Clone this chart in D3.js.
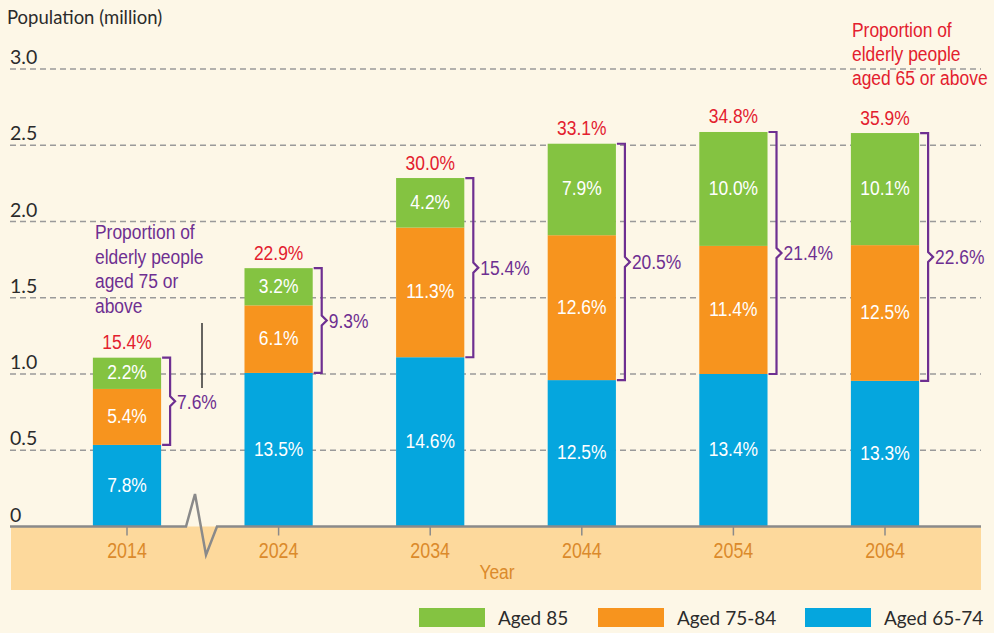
<!DOCTYPE html>
<html>
<head>
<meta charset="utf-8">
<script src="https://cdn.jsdelivr.net/npm/d3@7/dist/d3.min.js"></script>
<style>
  html, body { margin: 0; padding: 0; background: #fdf7e7; }
  svg { display: block; }
  .narrow { font-family: 'Liberation Sans', Arial, sans-serif; }
  .myriad { font-family: Lato, 'Open Sans', sans-serif; }
</style>
</head>
<body>
<div id="chart"></div>
<script>
// Data (population in million)
var years     = ['2014', '2024', '2034', '2044', '2054', '2064'];
var aged6574  = [0.535, 1.007, 1.11, 0.96, 1.00, 0.955];
var aged7584  = [0.367, 0.443, 0.85, 0.95, 0.84, 0.89];
var aged85    = [0.205, 0.244, 0.325, 0.60, 0.747, 0.735];
var pct6574   = ['7.8%', '13.5%', '14.6%', '12.5%', '13.4%', '13.3%'];
var pct7584   = ['5.4%', '6.1%', '11.3%', '12.6%', '11.4%', '12.5%'];
var pct85     = ['2.2%', '3.2%', '4.2%', '7.9%', '10.0%', '10.1%'];
var pct75up   = ['7.6%', '9.3%', '15.4%', '20.5%', '21.4%', '22.6%'];
var pct65up   = ['15.4%', '22.9%', '30.0%', '33.1%', '34.8%', '35.9%'];
var yTicks    = [0, 0.5, 1, 1.5, 2, 2.5, 3];
var legendNames = ['Aged 85', 'Aged 75-84', 'Aged 65-74'];

var colors = { a85: '#84c341', a7584: '#f7941e', a6574: '#05a6de' };
var red = '#e3202e', purple = '#6e2f91';

// condensed look: Liberation Sans squeezed horizontally
var squeeze = 0.83;
function tr(px, py) { return 'translate(' + px + ',' + py + ') scale(' + squeeze + ',1)'; }

var width = 994, height = 633;
var svg = d3.select('#chart').append('svg')
            .attr('width', width)
            .attr('height', height);

svg.append('rect').attr('width', width).attr('height', height).attr('fill', '#fdf7e7');

var x = d3.scaleBand()
          .domain(years)
          .range([51.2, 960.8])
          .paddingInner(0.55)
          .paddingOuter(0.275);

var y = d3.scaleLinear().domain([0, 3]).range([526.5, 69]);

// axis band
svg.append('rect')
   .attr('x', 11).attr('y', y(0))
   .attr('width', 970).attr('height', 590 - y(0))
   .attr('fill', '#fdd99c');

// gridlines
svg.append('g').selectAll('line')
   .data(yTicks.filter(function(d) { return d > 0; }))
   .enter().append('line')
   .attr('x1', 10).attr('x2', 981)
   .attr('y1', function(d) { return y(d); })
   .attr('y2', function(d) { return y(d); })
   .attr('stroke', '#9a9a9a')
   .attr('stroke-width', 1.3)
   .attr('stroke-dasharray', '6,4');

// y tick labels
svg.append('g').selectAll('text')
   .data(yTicks)
   .enter().append('text')
   .attr('class', 'myriad')
   .attr('x', 10)
   .attr('y', function(d) { return y(d) - 5; })
   .attr('font-size', 19.5)
   .attr('fill', '#2b2b2b')
   .text(function(d) { return d === 0 ? '0' : d3.format('.1f')(d); });

svg.append('text')
   .attr('class', 'myriad')
   .attr('x', 7).attr('y', 24)
   .attr('font-size', 18.5)
   .attr('fill', '#2b2b2b')
   .text('Population (million)');

// stacked bars
var rows = years.map(function(yr, i) {
  return { year: yr, a6574: aged6574[i], a7584: aged7584[i], a85: aged85[i], i: i };
});
var stack = d3.stack().keys(['a6574', 'a7584', 'a85']);
var series = stack(rows);
var labels = { a6574: pct6574, a7584: pct7584, a85: pct85 };

var bw = x.bandwidth();

series.forEach(function(s) {
  var g = svg.append('g');
  g.selectAll('rect')
   .data(s)
   .enter().append('rect')
   .attr('x', function(d) { return x(d.data.year); })
   .attr('y', function(d) { return y(d[1]); })
   .attr('width', bw)
   .attr('height', function(d) { return y(d[0]) - y(d[1]); })
   .attr('fill', colors[s.key]);

  g.selectAll('text')
   .data(s)
   .enter().append('text')
   .attr('class', 'narrow')
   .attr('transform', function(d) {
     return tr(x(d.data.year) + bw / 2, (y(d[0]) + y(d[1])) / 2 + 6);
   })
   .attr('text-anchor', 'middle')
   .attr('font-size', 21)
   .attr('fill', '#fff')
   .text(function(d) { return labels[s.key][d.data.i]; });
});

var topS = series[2], midS = series[1];

// red totals
svg.append('g').selectAll('text')
   .data(topS)
   .enter().append('text')
   .attr('class', 'narrow')
   .attr('transform', function(d) { return tr(x(d.data.year) + bw / 2, y(d[1]) - 8.5); })
   .attr('text-anchor', 'middle')
   .attr('font-size', 21)
   .attr('fill', red)
   .text(function(d, i) { return pct65up[i]; });

// purple brackets for aged 75 or above
var br = svg.append('g');
topS.forEach(function(d, i) {
  var x0 = x(d.data.year) + bw + 1,
      xb = x0 + 8,
      yt = y(d[1]),
      yb = y(midS[i][0]),
      ym = (yt + yb) / 2;
  var path = 'M' + x0 + ',' + yt + 'H' + xb + 'V' + (ym - 5) +
             'L' + (xb + 5) + ',' + ym + 'L' + xb + ',' + (ym + 5) +
             'V' + yb + 'H' + x0;
  br.append('path')
    .attr('d', path)
    .attr('fill', 'none')
    .attr('stroke', purple)
    .attr('stroke-width', 2.2);
  br.append('text')
    .attr('class', 'narrow')
    .attr('transform', tr(xb + 7, ym + 7.5))
    .attr('font-size', 21)
    .attr('fill', purple)
    .text(pct75up[i]);
});

// baseline with axis break
var yb0 = y(0);
svg.append('path')
   .attr('d', 'M10,' + yb0 + 'H186L195,494L206,555L217,' + yb0 + 'H981')
   .attr('fill', 'none')
   .attr('stroke', '#8a8a8a')
   .attr('stroke-width', 2.5)
   .attr('stroke-linejoin', 'miter');

// x ticks + labels
svg.append('g').selectAll('line')
   .data(years)
   .enter().append('line')
   .attr('x1', function(d) { return x(d) + bw / 2; })
   .attr('x2', function(d) { return x(d) + bw / 2; })
   .attr('y1', yb0).attr('y2', yb0 + 9)
   .attr('stroke', '#8a8a8a')
   .attr('stroke-width', 1.5);

svg.append('g').selectAll('text')
   .data(years)
   .enter().append('text')
   .attr('class', 'narrow')
   .attr('transform', function(d) { return tr(x(d) + bw / 2, 558); })
   .attr('text-anchor', 'middle')
   .attr('font-size', 21.5)
   .attr('fill', '#db8a2b')
   .text(function(d) { return d; });

svg.append('text')
   .attr('class', 'narrow')
   .attr('transform', tr(497, 579))
   .attr('text-anchor', 'middle')
   .attr('font-size', 21)
   .attr('fill', '#db8a2b')
   .text('Year');

// annotations
function multiline(lines, xPos, yPos, lh, color) {
  var t = svg.append('text')
             .attr('class', 'narrow')
             .attr('transform', tr(xPos, yPos))
             .attr('font-size', 21)
             .attr('fill', color);
  lines.forEach(function(l, k) {
    t.append('tspan').attr('x', 0).attr('y', k * lh).text(l);
  });
}
multiline(['Proportion of', 'elderly people', 'aged 75 or', 'above'], 95, 239, 24.7, purple);
multiline(['Proportion of', 'elderly people', 'aged 65 or above'], 852, 37, 24, red);

svg.append('line')
   .attr('x1', 202).attr('x2', 202)
   .attr('y1', 323).attr('y2', 388)
   .attr('stroke', '#333')
   .attr('stroke-width', 1.5);

// legend
var legX = [419, 598, 805];
var lg = svg.append('g');
legendNames.forEach(function(n, k) {
  var key = ['a85', 'a7584', 'a6574'][k];
  lg.append('rect')
    .attr('x', legX[k]).attr('y', 608)
    .attr('width', 66).attr('height', 19)
    .attr('fill', colors[key]);
  lg.append('text')
    .attr('class', 'myriad')
    .attr('x', legX[k] + 79).attr('y', 625)
    .attr('font-size', 19)
    .attr('fill', '#2b2b2b')
    .text(n);
});
</script>
</body>
</html>
